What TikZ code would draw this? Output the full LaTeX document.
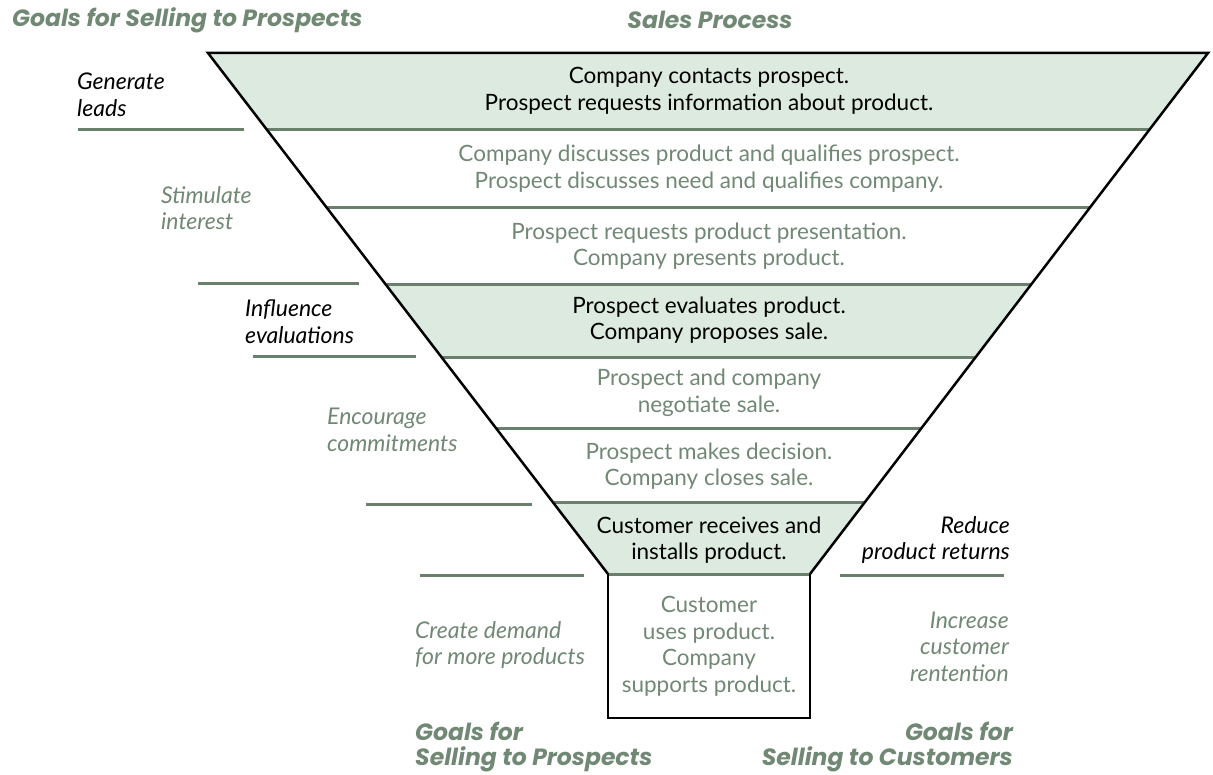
\documentclass[tikz,border=0pt]{standalone}
\usepackage{fontspec}
\setmainfont{Lato}
\newfontfamily\headfont{Poppins}
\usetikzlibrary{calc}
\definecolor{sgreen}{RGB}{112,136,116}
\definecolor{lgreen}{RGB}{220,234,223}
\definecolor{lgline}{RGB}{104,128,108}
\begin{document}
\begin{tikzpicture}[x=1pt,y=-1pt,
  edge/.style={draw=black,line width=2.5pt,line join=miter},
  bandline/.style={draw=lgline,line width=3pt},
  sideline/.style={draw=lgline,line width=3pt},
  bandtext/.style={align=center,inner sep=0pt,font=\fontsize{22.5}{26.5}\selectfont},
  goal/.style={inner sep=0pt,font=\fontsize{23}{26.5}\selectfont\itshape},
  goalL/.style={goal,align=left,anchor=west},
  goalR/.style={goal,align=right,anchor=east},
  head/.style={inner sep=0pt,text=sgreen,font=\headfont\fontsize{23.5}{25}\selectfont\bfseries\itshape}
]
\useasboundingbox (0,0) rectangle (1213,775);
% funnel corners
\coordinate (TL) at (208,53);
\coordinate (TR) at (1208,53);
\coordinate (BL) at (608,574);
\coordinate (BR) at (810,574);
\coordinate (BXL) at (608,718);
\coordinate (BXR) at (810,718);
% band boundaries
\foreach \k/\t in {1/0.1478,2/0.2956,3/0.4434,4/0.5835,5/0.7198,6/0.8637}{
  \coordinate (L\k) at ($(TL)!\t!(BL)$);
  \coordinate (R\k) at ($(TR)!\t!(BR)$);
}
% green bands
\fill[lgreen] (TL) -- (TR) -- (R1) -- (L1) -- cycle;
\fill[lgreen] (L3) -- (R3) -- (R4) -- (L4) -- cycle;
\fill[lgreen] (L6) -- (R6) -- (BR) -- (BL) -- cycle;
% band lines
\foreach \k in {1,...,6}{ \draw[bandline] (L\k) -- (R\k); }
\draw[bandline] (BL) -- (BR);
% outline
\draw[edge] (BL) -- (TL) -- (TR) -- (BR);
\draw[edge] (BL) -- (BXL) -- (BXR) -- (BR);

% band texts
\node[bandtext] (b1) at (709,91) {Company contacts prospect.\\Prospect requests information about product.};
\node[bandtext,text=sgreen] (b2) at (709,168.5) {Company discusses product and qualifies prospect.\\Prospect discusses need and qualifies company.};
\node[bandtext,text=sgreen] (b3) at (709,246) {Prospect requests product presentation.\\Company presents product.};
\node[bandtext] (b4) at (709,320) {Prospect evaluates product.\\Company proposes sale.};
\node[bandtext,text=sgreen] (b5) at (709,393) {Prospect and company\\negotiate sale.};
\node[bandtext,text=sgreen] (b6) at (709,466) {Prospect makes decision.\\Company closes sale.};
\node[bandtext] (b7) at (709,540) {Customer receives and\\installs product.};
\node[bandtext,text=sgreen] (b8) at (709,646.5) {Customer\\uses product.\\Company\\supports product.};

% side lines
\coordinate (s1a) at (78,130);  \coordinate (s1b) at (244,130);
\coordinate (s2a) at (198,284); \coordinate (s2b) at (359,284);
\coordinate (s3a) at (253,357); \coordinate (s3b) at (416,357);
\coordinate (s4a) at (366,504); \coordinate (s4b) at (532,504);
\coordinate (s5a) at (420,575); \coordinate (s5b) at (584,575);
\coordinate (s6a) at (840,575); \coordinate (s6b) at (1004,575);
\foreach \k in {1,...,6}{ \draw[sideline] (s\k a) -- (s\k b); }

% goals
\node[goalL] (g1) at (77,95) {Generate\\leads};
\node[goalL,text=sgreen] (g2) at (161,208) {Stimulate\\interest};
\node[goalL] (g3) at (245,321.5) {Influence\\evaluations};
\node[goalL,text=sgreen] (g4) at (327,430) {Encourage\\commitments};
\node[goalL,text=sgreen] (g5) at (415,645) {Create demand\\for more products};
\node[goalR] (g6) at (1010,540) {Reduce\\product returns};
\node[goalR,text=sgreen] (g7) at (1009,646.5) {Increase\\customer\\rentention};

% headings
\node[head,anchor=west] (h1) at (12,20) {Goals for Selling to Prospects};
\node[head] (h2) at (710,20) {Sales Process};
\node[head,align=left,anchor=west] (h3) at (415,747.5) {Goals for\\Selling to Prospects};
\node[head,align=right,anchor=east] (h4) at (1013,747.5) {Goals for\\Selling to Customers};
\end{tikzpicture}
\end{document}
